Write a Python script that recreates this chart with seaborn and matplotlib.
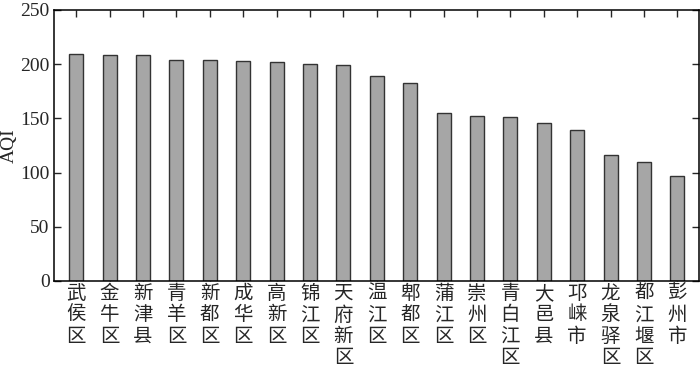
import numpy as np
import pandas as pd
import matplotlib
matplotlib.use("Agg")
import matplotlib.pyplot as plt
import seaborn as sns

districts = ['武侯区', '金牛区', '新津县', '青羊区', '新都区', '成华区', '高新区', '锦江区', '天府新区',
             '温江区', '郫都区', '蒲江区', '崇州区', '青白江区', '大邑县', '邛崃市', '龙泉驿区', '都江堰区', '彭州市']
aqi = [209, 208, 208, 204, 204, 203, 202, 200, 199, 189, 183, 155, 152, 151, 146, 139, 116, 110, 97]

df = pd.DataFrame({'district': districts, 'AQI': aqi})

sns.set_style("ticks")
plt.rcParams['font.family'] = ['Liberation Serif', 'Noto Sans CJK SC']

fig = plt.figure(figsize=(7, 3.69), dpi=100)
ax = fig.add_axes([0.077, 0.2385, 0.9216, 0.7345])

sns.barplot(data=df, x='district', y='AQI', color='#a6a6a6', width=0.42,
            edgecolor='#333333', linewidth=1.0, saturation=1, ax=ax)

ax.set_xlim(-0.67, 18.65)
ax.set_ylim(0, 250)
ax.set_yticks([0, 50, 100, 150, 200, 250])
ax.set_xlabel('')
ax.set_ylabel('AQI', fontsize=14, labelpad=2)

# stack each character of the district name vertically
ax.set_xticks(range(len(districts)))
ax.set_xticklabels(['\n'.join(d) for d in districts], fontsize=12.5,
                   family=['Noto Sans CJK SC'], linespacing=1.02, va='top')

ax.tick_params(axis='both', which='both', direction='in', length=5, width=1,
               top=True, right=True, labelsize=14, pad=3)
ax.tick_params(axis='x', pad=1.5)
for s in ax.spines.values():
    s.set_linewidth(1.1)
    s.set_color('black')

fig.savefig('out.png', dpi=100)
